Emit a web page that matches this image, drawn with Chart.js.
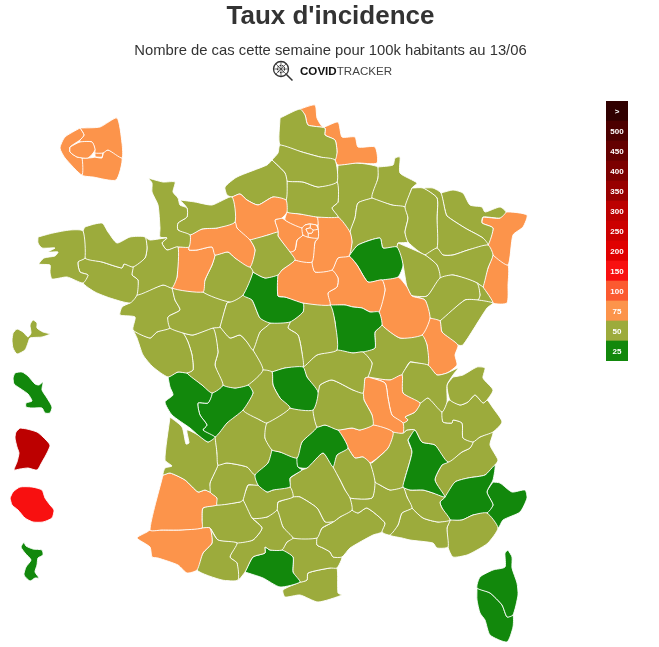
<!DOCTYPE html>
<html>
<head>
<meta charset="utf-8">
<title>Taux d'incidence</title>
<script src="https://cdn.jsdelivr.net/npm/chart.js@4"></script>
<style>
body{ margin:0; background:#fff; overflow:hidden; font-family:"Liberation Sans",Arial,sans-serif; }
canvas{ position:absolute; }
#mapChart{ left:0; top:0; }
#scaleChart{ left:606px; top:101px; }
.head{ position:absolute; left:0; width:659px; text-align:center; color:#333; white-space:nowrap; }
#title{ top:-1px; left:1px; font-size:26px; font-weight:bold; line-height:32px; }
#subtitle{ top:40px; left:1px; font-size:14.8px; line-height:20px; }
#logo{ position:absolute; left:272px; top:60px; }
#brand{ position:absolute; left:300px; top:63px; font-size:11.6px; line-height:15px; color:#222; }
#brand b{ color:#111; }
#brand span{ color:#444; }
</style>
</head>
<body>
<canvas id="mapChart" width="659" height="647"></canvas>
<canvas id="scaleChart" width="22" height="260"></canvas>
<div class="head" id="title">Taux d'incidence</div>
<div class="head" id="subtitle">Nombre de cas cette semaine pour 100k habitants au 13/06</div>
<svg id="logo" width="22" height="22" viewBox="0 0 22 22" fill="none" stroke="#333">
<circle cx="9" cy="9" r="7.5" stroke-width="1.3"/>
<circle cx="9" cy="9" r="3.6" stroke-width="1.1" stroke-dasharray="1.6 0.9"/>
<path d="M9 2V16M2 9H16M4 4L14 14M14 4L4 14" stroke-width="0.7"/>
<path d="M14.5 14.5L20.5 20.5" stroke-width="1.5"/>
</svg>
<div id="brand"><b>COVID</b><span>TRACKER</span></div>

<script>
// legend of the colour scale, top to bottom
const scaleLabels = [">","500","450","400","350","300","250","200","150","100","75","50","25"];
const scaleColors = ["#300000","#4c0000","#640000","#7c0000","#980000","#bc0000","#cc0000","#e00000","#f81010","#fb5a30","#fc944b","#9cab3c","#12880c"];
const scaleLimits = [Infinity,500,450,400,350,300,250,200,150,100,75,50,25];

// departments, first ones are painted on top
const deptCodes = [
"i75","i92","i93","i94","p75","p92","p93","p94",
"971","972","973","974","976",
"29","22","56","35","50","14","61","53","72","28","27","76","80","62","59","60","95","78","91","77",
"45","41","37","49","44","85","79","86","17","16","87","23","36","18","03","63","19","15","46","24","33","47","40","64","65","32","82","31","09","81","12","48","43","42","69","01","74","73","38","26","07","30","84","13","83","04","06","05","34","11","66",
"58","89","10","21","71","39","25","70","90","52","88","55","54","57","67","68","51","08","02","2B","2A"
];
const deptValues = [
62,62,62,62,62,62,62,62,
38,20,280,130,20,
38,38,38,38,38,38,62,62,38,38,62,38,38,38,62,38,62,62,62,62,
62,20,38,38,38,38,38,38,20,20,38,20,38,38,38,38,38,20,20,38,38,38,62,62,38,38,38,38,20,38,38,38,62,62,62,38,38,38,38,20,38,38,38,38,38,20,20,38,38,38,38,
20,62,20,62,38,62,38,38,38,38,38,38,38,38,62,62,38,38,38,20,20
];
const deptOutlines = [
[[70,147],[80,142],[92,142],[95,150],[88,158],[77,157],[70,152]],
[[80,128],[84,135],[80,140],[70,147],[70,152],[77,157],[82,158],[82,175],[65,158],[60,148],[65,137]],
[[80,128],[100,127],[117,118],[122,143],[122,158],[108,150],[103,153],[95,153],[95,150],[92,142],[80,142],[80,140],[84,135]],
[[82,158],[88,158],[95,157],[95,153],[103,153],[102,157],[95,157],[102,158],[103,153],[108,150],[122,158],[116,180],[93,177],[82,175]],
[[306,229],[310,228],[313,230],[312,233],[308,233]],
[[305,225],[310,224],[310,228],[306,229],[308,233],[308,237],[303,235],[302,228]],
[[310,224],[316,225],[318,229],[313,230],[310,228]],
[[308,233],[312,233],[313,230],[318,229],[318,238],[308,237]],
[[13,333],[17,329],[23,332],[28,337],[31,333],[30,325],[33,320],[37,323],[37,328],[43,332],[50,334],[42,337],[30,338],[28,343],[25,350],[17,354],[13,348],[12,340]],
[[13,378],[15,373],[22,372],[28,376],[35,384],[39,385],[43,382],[42,390],[47,398],[52,407],[50,413],[45,413],[42,408],[32,408],[26,407],[26,403],[32,401],[28,394],[21,389],[14,384]],
[[20,428],[27,429],[37,432],[43,437],[50,445],[47,453],[42,462],[37,470],[28,468],[20,469],[14,470],[17,462],[19,453],[17,447],[15,438],[16,432]],
[[10,498],[13,492],[20,487],[32,487],[42,490],[45,498],[50,505],[54,510],[52,518],[43,522],[33,522],[25,518],[18,510],[12,505]],
[[24,542],[26,546],[33,549],[42,550],[43,555],[38,558],[37,565],[35,572],[39,578],[35,578],[30,581],[24,575],[26,567],[31,560],[25,553],[21,547]],
[[38,237],[53,233],[70,230],[83,231],[85,258],[78,262],[80,272],[88,275],[83,283],[67,277],[52,279],[50,272],[50,265],[39,264],[44,258],[55,256],[58,252],[48,252],[55,248],[42,248],[38,243]],
[[83,231],[85,227],[102,223],[108,232],[117,243],[130,237],[145,237],[147,248],[145,258],[133,267],[124,264],[122,268],[102,262],[85,258]],
[[85,258],[102,262],[122,268],[124,264],[133,267],[132,275],[138,280],[137,295],[130,303],[110,298],[95,292],[83,283],[88,275],[80,272],[78,262]],
[[145,237],[150,240],[167,238],[162,243],[167,250],[178,247],[177,277],[172,288],[163,285],[137,295],[138,280],[132,275],[133,267],[145,258],[147,248]],
[[148,178],[163,182],[175,182],[173,192],[178,198],[180,205],[187,208],[187,217],[178,223],[178,230],[190,235],[189,247],[178,247],[167,250],[162,243],[167,238],[160,237],[160,228],[158,205],[152,192],[152,183]],
[[180,200],[195,202],[212,205],[232,197],[235,222],[217,228],[202,229],[190,235],[178,230],[178,223],[187,217],[187,208]],
[[190,235],[202,229],[217,228],[235,222],[237,228],[250,240],[255,250],[250,267],[235,258],[228,252],[215,255],[212,247],[197,250],[189,250],[189,247]],
[[178,247],[189,247],[189,250],[197,250],[212,247],[215,255],[212,265],[205,280],[203,292],[172,288],[177,277]],
[[215,255],[228,252],[235,258],[250,267],[253,272],[243,295],[230,302],[203,292],[205,280],[212,265]],
[[250,240],[268,235],[278,232],[278,236],[290,252],[295,260],[282,270],[278,275],[265,278],[253,272],[250,267],[255,250]],
[[232,197],[240,194],[247,200],[258,205],[273,197],[286,200],[287,212],[282,218],[275,220],[278,232],[268,235],[250,240],[237,228],[235,222]],
[[272,160],[285,173],[287,181],[286,200],[273,197],[258,205],[247,200],[240,194],[232,197],[227,195],[225,187],[237,177],[267,165]],
[[272,160],[278,153],[280,145],[302,152],[320,157],[335,160],[337,182],[318,187],[303,182],[287,181],[285,173]],
[[280,118],[300,109],[305,115],[308,125],[325,128],[325,135],[335,140],[337,152],[335,160],[320,157],[302,152],[280,145]],
[[300,109],[315,105],[317,118],[323,127],[338,122],[342,137],[355,137],[358,147],[375,147],[377,163],[357,163],[338,165],[335,160],[337,152],[335,140],[325,135],[325,128],[308,125],[305,115]],
[[287,181],[303,182],[318,187],[337,182],[338,202],[332,208],[338,217],[317,217],[300,214],[287,212],[286,200]],
[[287,212],[300,214],[317,217],[318,225],[316,225],[310,224],[305,225],[302,228],[285,220]],
[[282,218],[285,220],[302,228],[303,235],[297,240],[295,250],[290,252],[278,236],[278,232],[275,220]],
[[297,240],[303,235],[308,237],[318,238],[315,242],[312,262],[295,260],[290,252],[295,250]],
[[317,217],[338,217],[350,232],[352,242],[349,256],[338,258],[332,270],[315,272],[312,262],[315,242],[318,238],[318,225]],
[[295,260],[312,262],[315,272],[332,270],[338,278],[337,287],[328,293],[330,305],[303,303],[285,297],[278,296],[278,275],[282,270]],
[[253,272],[265,278],[278,275],[278,296],[285,297],[303,303],[303,312],[290,322],[270,323],[260,318],[252,300],[243,295]],
[[220,327],[227,303],[230,302],[243,295],[252,300],[260,318],[270,323],[260,332],[253,350],[247,342],[240,335],[230,338]],
[[172,288],[203,292],[230,302],[227,303],[220,327],[213,328],[193,335],[183,333],[170,328],[168,317],[180,310],[175,300]],
[[130,303],[137,295],[163,285],[172,288],[175,300],[180,310],[168,317],[170,328],[157,332],[150,338],[133,330],[135,317],[120,315],[122,307]],
[[133,330],[150,338],[157,332],[170,328],[183,333],[188,342],[192,355],[193,370],[187,373],[178,372],[168,377],[153,367],[143,355],[137,338]],
[[183,333],[193,335],[213,328],[218,352],[215,365],[223,385],[212,393],[202,385],[187,373],[193,370],[192,355],[188,342]],
[[213,328],[220,327],[230,338],[240,335],[247,342],[253,350],[263,370],[248,385],[235,388],[223,385],[215,365],[218,352]],
[[168,377],[178,372],[187,373],[202,385],[212,393],[208,403],[198,403],[200,415],[207,425],[203,430],[215,437],[208,442],[198,435],[190,428],[172,415],[165,402],[173,395],[170,387]],
[[212,393],[223,385],[235,388],[248,385],[253,393],[243,410],[227,423],[215,437],[203,430],[207,425],[200,415],[198,403],[208,403]],
[[248,385],[248,377],[263,370],[272,372],[273,385],[280,398],[290,408],[267,423],[260,420],[243,410],[253,393]],
[[272,372],[285,368],[303,367],[307,377],[318,392],[313,410],[290,408],[280,398],[273,385]],
[[270,323],[290,322],[288,328],[298,335],[302,353],[303,367],[285,368],[272,372],[263,370],[253,350],[260,332]],
[[303,303],[330,305],[335,322],[337,350],[317,355],[303,367],[302,353],[298,335],[288,328],[290,322],[303,312]],
[[303,367],[317,355],[337,350],[353,353],[363,352],[372,363],[368,377],[365,378],[363,393],[353,390],[332,380],[320,385],[318,392],[307,377]],
[[318,392],[320,385],[332,380],[353,390],[363,393],[364,400],[372,415],[373,425],[360,430],[352,428],[338,430],[325,425],[317,427],[313,410]],
[[290,408],[313,410],[317,427],[302,442],[297,458],[280,452],[272,450],[265,438],[267,423]],
[[317,427],[325,425],[338,430],[348,448],[337,455],[333,467],[323,453],[307,468],[298,467],[297,458],[302,442]],
[[272,450],[280,452],[297,458],[298,467],[302,470],[290,478],[290,487],[273,490],[267,492],[258,485],[255,475],[268,463]],
[[215,437],[227,423],[243,410],[260,420],[267,423],[265,438],[272,450],[268,463],[255,475],[247,467],[227,463],[218,465],[217,453]],
[[170,417],[182,427],[186,444],[189,443],[187,430],[198,435],[208,442],[215,437],[217,453],[218,465],[210,483],[210,492],[205,490],[198,492],[185,480],[170,473],[163,475],[165,468],[172,466],[165,460]],
[[218,465],[227,463],[247,467],[255,475],[258,485],[248,485],[243,500],[240,502],[217,505],[217,498],[210,492],[210,483]],
[[163,475],[170,473],[185,480],[198,492],[205,490],[210,492],[217,498],[217,505],[203,508],[202,520],[202,528],[180,530],[162,530],[150,530]],
[[150,530],[162,530],[180,530],[202,528],[210,528],[212,543],[203,553],[197,570],[187,573],[178,565],[158,558],[152,557],[150,547],[137,538],[147,532]],
[[210,528],[218,540],[237,543],[230,557],[237,563],[238,580],[222,580],[197,570],[203,553],[212,543]],
[[217,505],[240,502],[243,500],[252,518],[262,528],[253,540],[237,543],[218,540],[210,528],[202,528],[202,520],[203,508]],
[[248,485],[258,485],[267,492],[273,490],[290,487],[293,497],[278,502],[277,510],[267,517],[252,518],[243,500]],
[[252,518],[267,517],[277,510],[283,527],[293,538],[287,542],[282,550],[270,550],[265,547],[265,553],[253,557],[245,572],[238,580],[237,563],[230,557],[237,543],[253,540],[262,528]],
[[245,572],[253,557],[265,553],[265,547],[270,550],[282,550],[293,557],[293,572],[300,582],[280,587],[263,578]],
[[278,502],[293,497],[300,497],[317,508],[325,522],[333,522],[322,528],[317,538],[293,538],[283,527],[277,510]],
[[290,478],[302,470],[307,468],[323,453],[333,467],[340,480],[345,490],[350,498],[352,510],[340,517],[333,522],[325,522],[317,508],[300,497],[293,497],[290,487]],
[[348,448],[355,458],[363,457],[370,463],[375,482],[372,498],[350,498],[345,490],[340,480],[333,467],[337,455]],
[[338,430],[352,428],[360,430],[373,425],[393,432],[388,448],[370,463],[363,457],[355,458],[348,448]],
[[368,377],[385,383],[388,398],[392,415],[403,423],[403,433],[393,432],[373,425],[372,415],[364,400],[363,393],[365,378]],
[[368,377],[390,380],[402,375],[403,393],[420,403],[415,412],[405,417],[408,420],[403,423],[392,415],[388,398],[385,383]],
[[410,362],[428,365],[437,375],[447,373],[458,368],[453,375],[447,385],[447,402],[442,412],[428,398],[420,403],[403,393],[402,375]],
[[453,377],[463,375],[477,367],[485,368],[483,378],[493,390],[487,400],[483,403],[475,395],[468,402],[460,405],[450,400],[447,385]],
[[447,402],[450,400],[460,405],[468,402],[475,395],[483,403],[487,400],[493,408],[502,422],[493,432],[480,437],[473,442],[463,438],[462,423],[453,420],[452,423],[443,422],[442,412]],
[[420,403],[428,398],[442,412],[443,422],[452,423],[453,420],[462,423],[463,438],[473,442],[470,448],[462,452],[448,462],[435,445],[422,442],[415,430],[407,430],[403,433],[403,423],[408,420],[405,417],[415,412]],
[[408,440],[415,430],[422,442],[435,445],[448,462],[442,465],[435,480],[445,497],[433,493],[423,490],[410,490],[403,487],[405,478],[412,452]],
[[372,463],[388,448],[393,432],[403,433],[407,430],[415,430],[408,440],[412,452],[405,478],[403,487],[390,490],[380,485],[375,482],[370,463]],
[[350,498],[372,498],[375,482],[380,485],[390,490],[403,487],[407,497],[412,508],[402,513],[398,525],[390,535],[382,532],[385,523],[367,508],[358,513],[352,510]],
[[403,487],[410,490],[423,490],[433,493],[445,497],[440,502],[442,508],[450,520],[438,522],[423,518],[412,508],[407,497]],
[[412,508],[423,518],[438,522],[450,520],[447,528],[448,547],[437,548],[433,543],[410,540],[402,538],[390,535],[398,525],[402,513]],
[[450,520],[462,520],[473,515],[487,513],[498,528],[488,543],[477,550],[467,555],[453,557],[448,547],[447,528]],
[[445,497],[455,482],[468,478],[485,475],[495,465],[493,480],[487,492],[493,505],[487,513],[473,515],[462,520],[450,520],[442,508],[440,502]],
[[493,482],[500,483],[512,492],[525,490],[527,498],[520,512],[503,520],[498,528],[487,513],[493,505],[487,492]],
[[448,462],[462,452],[470,448],[473,442],[480,437],[493,432],[490,445],[498,460],[495,465],[485,475],[468,478],[455,482],[445,497],[435,480],[442,465]],
[[322,528],[333,522],[340,517],[352,510],[358,513],[367,508],[385,523],[382,532],[373,535],[350,548],[342,557],[333,557],[330,552],[323,548],[317,545],[317,538]],
[[287,542],[293,538],[317,538],[317,545],[323,548],[330,552],[333,557],[342,557],[337,568],[330,568],[308,573],[307,580],[300,582],[293,572],[293,557],[282,550]],
[[300,582],[307,580],[308,573],[330,568],[337,568],[338,593],[342,595],[318,602],[300,595],[285,597],[283,590]],
[[330,305],[345,305],[353,307],[362,308],[370,312],[379,312],[382,325],[375,332],[375,348],[363,352],[353,353],[337,350],[335,322]],
[[332,270],[338,258],[349,256],[357,265],[368,282],[382,280],[385,290],[379,312],[370,312],[362,308],[353,307],[345,305],[330,305],[328,293],[337,287],[338,278]],
[[349,256],[358,245],[380,238],[383,248],[397,247],[403,265],[398,277],[382,280],[368,282],[357,265]],
[[382,280],[398,277],[407,287],[412,296],[425,300],[430,318],[422,335],[400,338],[382,325],[379,312],[385,290]],
[[382,325],[400,338],[422,335],[427,345],[428,365],[410,362],[402,375],[390,380],[368,377],[372,363],[363,352],[375,348],[375,332]],
[[430,318],[440,321],[442,332],[458,345],[455,355],[457,365],[447,373],[437,375],[428,365],[427,345],[422,335]],
[[440,321],[465,300],[478,300],[493,303],[487,308],[463,345],[458,345],[442,332]],
[[412,296],[427,296],[440,278],[453,275],[477,283],[480,295],[478,300],[465,300],[440,321],[430,318],[425,300]],
[[480,285],[483,287],[493,303],[478,300],[480,295],[477,283]],
[[398,243],[425,255],[437,265],[440,278],[427,296],[412,296],[407,287],[403,265],[397,247]],
[[425,255],[437,248],[443,255],[453,255],[468,250],[488,245],[493,255],[488,268],[483,287],[480,285],[477,283],[453,275],[440,278],[437,265]],
[[412,188],[423,188],[437,198],[437,218],[437,248],[425,255],[408,242],[405,232],[408,218],[405,207]],
[[423,188],[433,188],[441,193],[445,210],[447,216],[465,228],[483,238],[488,245],[468,250],[453,255],[443,255],[437,248],[437,218],[437,198]],
[[441,193],[453,190],[463,193],[470,205],[482,207],[485,212],[500,207],[506,212],[500,218],[483,217],[482,223],[493,228],[488,245],[483,238],[465,228],[447,216],[445,210]],
[[483,217],[500,218],[506,212],[527,215],[523,227],[513,235],[508,265],[493,255],[488,245],[493,228],[482,223]],
[[493,255],[508,265],[508,285],[507,303],[493,303],[483,287],[488,268]],
[[372,198],[392,205],[405,207],[408,218],[405,232],[408,242],[398,243],[397,247],[383,248],[380,238],[358,245],[349,256],[352,242],[350,232],[355,218],[358,203]],
[[378,167],[393,165],[395,158],[400,157],[400,173],[417,183],[412,188],[405,207],[392,205],[372,198],[378,178]],
[[338,165],[357,163],[378,167],[378,178],[372,198],[358,203],[355,218],[350,232],[338,217],[332,208],[338,202],[337,182]],
[[508,550],[512,557],[512,568],[517,583],[518,595],[513,615],[507,617],[502,605],[490,593],[477,588],[480,577],[493,570],[505,567],[505,553]],
[[477,588],[490,593],[502,605],[507,617],[513,615],[513,627],[507,642],[490,635],[485,620],[480,613],[477,600]]
];

function colorFor(value){
    // highest limit the value stays under
    let color = scaleColors[0];
    scaleLimits.forEach((limit,i) => { if(value < limit) color = scaleColors[i]; });
    return color;
}

function createMap(){

    let datasets = deptOutlines.map((outline,i) => {
        let points = outline.map(p => ({ x:p[0], y:p[1] }));
        points.push(points[0]);
        return {
            label:deptCodes[i],
            data:points,
            showLine:true,
            fill:"shape",
            backgroundColor:colorFor(deptValues[i]),
            borderColor:"#ffffff",
            borderWidth:0.9,
            borderJoinStyle:"round",
            pointRadius:0,
            tension:0.2
        };
    });

    new Chart(document.getElementById("mapChart"),{
        type:"scatter",
        data:{ datasets },
        options:{
            responsive:false,
            animation:false,
            layout:{ padding:0 },
            plugins:{
                legend:{ display:false },
                tooltip:{ enabled:false }
            },
            scales:{
                x:{ display:false, min:0, max:659 },
                y:{ display:false, min:0, max:647, reverse:true }
            }
        }
    });

}

const scaleText = {
    id:"scaleText",
    afterDatasetsDraw(chart){
        let ctx = chart.ctx;
        ctx.save();
        ctx.fillStyle = "#ffffff";
        ctx.font = "bold 8px 'Liberation Sans'";
        ctx.textAlign = "center";
        ctx.textBaseline = "middle";
        scaleLabels.forEach((label,i) => {
            ctx.fillText(label, 11, chart.scales.y.getPixelForValue(i) + 0.5);
        });
        ctx.restore();
    }
};

function createScale(){

    new Chart(document.getElementById("scaleChart"),{
        type:"bar",
        data:{
            labels:scaleLabels,
            datasets:[{
                data:scaleLabels.map(() => 1),
                backgroundColor:scaleColors,
                barPercentage:1,
                categoryPercentage:1
            }]
        },
        options:{
            indexAxis:"y",
            responsive:false,
            animation:false,
            layout:{ padding:0 },
            plugins:{
                legend:{ display:false },
                tooltip:{ enabled:false }
            },
            scales:{
                x:{ display:false, min:0, max:1 },
                y:{ display:false }
            }
        },
        plugins:[scaleText]
    });

}

createMap();
createScale();
</script>
</body>
</html>
